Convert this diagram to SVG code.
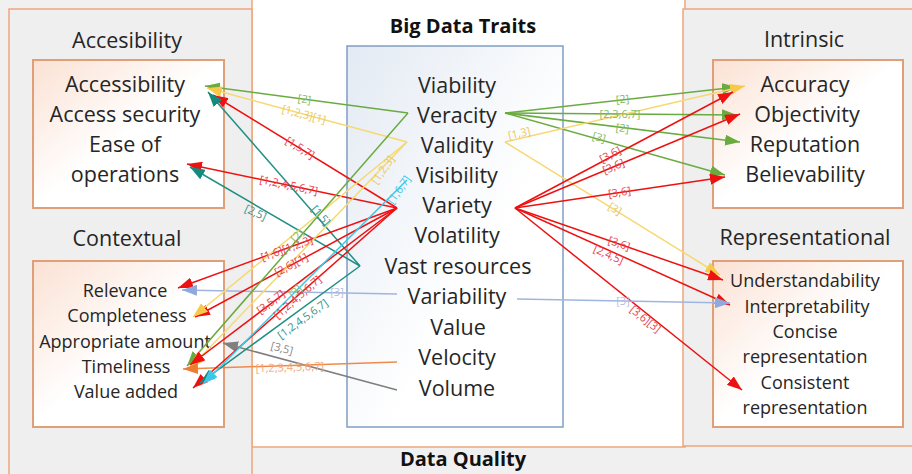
<svg xmlns="http://www.w3.org/2000/svg" width="912" height="474" viewBox="0 0 912 474">
<defs>
<linearGradient id="gIn" x1="0" y1="0" x2="1" y2="1">
<stop offset="0" stop-color="#fbe1d3"/><stop offset="0.5" stop-color="#ffffff"/><stop offset="1" stop-color="#ffffff"/>
</linearGradient>
<linearGradient id="gBl" x1="0" y1="0" x2="1" y2="1">
<stop offset="0" stop-color="#e3eaf3"/><stop offset="0.6" stop-color="#ffffff"/><stop offset="1" stop-color="#ffffff"/>
</linearGradient>
<marker id="aG" markerUnits="userSpaceOnUse" markerWidth="16" markerHeight="11" refX="15" refY="5.5" orient="auto"><path d="M0,0 L15,5.5 L0,11 z" fill="#6aab3f"/></marker>
<marker id="aY" markerUnits="userSpaceOnUse" markerWidth="16" markerHeight="11" refX="15" refY="5.5" orient="auto"><path d="M0,0 L15,5.5 L0,11 z" fill="#f7c948"/></marker>
<marker id="aR" markerUnits="userSpaceOnUse" markerWidth="16" markerHeight="11" refX="15" refY="5.5" orient="auto"><path d="M0,0 L15,5.5 L0,11 z" fill="#ee1111"/></marker>
<marker id="aT" markerUnits="userSpaceOnUse" markerWidth="16" markerHeight="11" refX="15" refY="5.5" orient="auto"><path d="M0,0 L15,5.5 L0,11 z" fill="#138a7e"/></marker>
<marker id="aC" markerUnits="userSpaceOnUse" markerWidth="16" markerHeight="11" refX="15" refY="5.5" orient="auto"><path d="M0,0 L15,5.5 L0,11 z" fill="#3cc8e6"/></marker>
<marker id="aB" markerUnits="userSpaceOnUse" markerWidth="16" markerHeight="11" refX="15" refY="5.5" orient="auto"><path d="M0,0 L15,5.5 L0,11 z" fill="#8fa9dc"/></marker>
<marker id="aK" markerUnits="userSpaceOnUse" markerWidth="16" markerHeight="11" refX="15" refY="5.5" orient="auto"><path d="M0,0 L15,5.5 L0,11 z" fill="#7f7f7f"/></marker>
<marker id="aO" markerUnits="userSpaceOnUse" markerWidth="16" markerHeight="11" refX="15" refY="5.5" orient="auto"><path d="M0,0 L15,5.5 L0,11 z" fill="#ed7d31"/></marker>
</defs>
<style>
.col{fill:#efefef;stroke:#eba67c;stroke-width:1.5}
.mid{fill:#ffffff;stroke:#eba67c;stroke-width:1.5}
.inner{fill:url(#gIn);stroke:#df9f78;stroke-width:2}
.traits{fill:url(#gBl);stroke:#7f9fc4;stroke-width:1.5}
text{font-family:"Open Sans","Liberation Sans",sans-serif;fill:#262626}
.t22{font-size:21.5px;text-anchor:middle}
.t18{font-size:18px;text-anchor:middle}
.hd{font-size:20px;font-weight:bold;text-anchor:middle;fill:#111}
.lb{font-size:11px;text-anchor:middle}
line{fill:none;stroke-width:1.5}
.g{stroke:#6aab3f}.y{stroke:#f7d870}.r{stroke:#ee1111}.tl{stroke:#1f8f84}.c{stroke:#3cc8e6}.b{stroke:#9fb5e0}.k{stroke:#7f7f7f}.o{stroke:#f08a4b}
.lg{fill:#86bb66}.ly{fill:#e8c860}.lr{fill:#e8404a}.lt{fill:#3a958c}.lc{fill:#3cc8e6}.lbb{fill:#b3c0de}.lk{fill:#888888}.lo{fill:#f2a677}
</style>
<rect x="0" y="0" width="912" height="474" fill="#f0f0f0"/>
<rect class="mid" x="252" y="-5" width="433" height="452"/>
<rect class="col" x="9" y="9" width="243" height="475"/>
<rect class="col" x="683" y="9" width="240" height="437"/>
<text class="hd" x="463" y="33">Big Data Traits</text>
<text class="hd" x="463" y="466">Data Quality</text>

<g id="accessibility">
<text class="t22" x="127" y="48">Accesibility</text>
<rect class="inner" x="33" y="60" width="191" height="148"/>
<text class="t22" x="125" y="92">Accessibility</text>
<text class="t22" x="125" y="122">Access security</text>
<text class="t22" x="125" y="152">Ease of</text>
<text class="t22" x="125" y="182">operations</text>
</g>
<g id="contextual">
<text class="t22" x="127" y="246">Contextual</text>
<rect class="inner" x="33" y="261" width="191" height="166"/>
<text class="t18" x="125" y="297">Relevance</text>
<text class="t18" x="127" y="322">Completeness</text>
<text class="t18" x="125" y="348">Appropriate amount</text>
<text class="t18" x="126" y="373">Timeliness</text>
<text class="t18" x="126" y="398">Value added</text>
</g>
<g id="traits">
<rect class="traits" x="347" y="46" width="216" height="381"/>
<text class="t22" x="457" y="93">Viability</text>
<text class="t22" x="457" y="123">Veracity</text>
<text class="t22" x="457" y="153">Validity</text>
<text class="t22" x="457" y="183">Visibility</text>
<text class="t22" x="457" y="213">Variety</text>
<text class="t22" x="457" y="243">Volatility</text>
<text class="t22" x="458" y="274">Vast resources</text>
<text class="t22" x="457" y="304">Variability</text>
<text class="t22" x="458" y="335">Value</text>
<text class="t22" x="457" y="365">Velocity</text>
<text class="t22" x="457" y="396">Volume</text>
</g>
<g id="intrinsic">
<text class="t22" x="804" y="47">Intrinsic</text>
<rect class="inner" x="713" y="60" width="190" height="148"/>
<text class="t22" x="805" y="92">Accuracy</text>
<text class="t22" x="807" y="122">Objectivity</text>
<text class="t22" x="805" y="152">Reputation</text>
<text class="t22" x="805" y="182">Believability</text>
</g>
<g id="representational">
<text class="t22" x="805" y="245">Representational</text>
<rect class="inner" x="713" y="261" width="190" height="166"/>
<text class="t18" x="805" y="287">Understandability</text>
<text class="t18" x="807" y="313">Interpretability</text>
<text class="t18" x="805" y="338">Concise</text>
<text class="t18" x="805" y="363">representation</text>
<text class="t18" x="805" y="389">Consistent</text>
<text class="t18" x="805" y="414">representation</text>
</g>

<g id="connectors">
<line class="g" x1="408" y1="113" x2="205" y2="86" marker-end="url(#aG)"/>
<line class="y" x1="407" y1="142" x2="207" y2="88" marker-end="url(#aY)"/>
<line class="r" x1="397" y1="208" x2="213" y2="95" marker-end="url(#aR)"/>
<line class="tl" x1="360" y1="266" x2="208" y2="92" marker-end="url(#aT)"/>
<line class="r" x1="397" y1="208" x2="187" y2="164" marker-end="url(#aR)"/>
<line class="tl" x1="360" y1="266" x2="190" y2="167" marker-end="url(#aT)"/>
<line class="r" x1="397" y1="208" x2="178" y2="288" marker-end="url(#aR)"/>
<line class="b" x1="397" y1="294" x2="182" y2="290" marker-end="url(#aB)"/>
<line class="r" x1="397" y1="208" x2="195" y2="317" marker-end="url(#aR)"/>
<line class="y" x1="407" y1="142" x2="193" y2="317" marker-end="url(#aY)"/>
<line class="k" x1="397" y1="390" x2="223" y2="343" marker-end="url(#aK)"/>
<line class="g" x1="408" y1="113" x2="187" y2="366" marker-end="url(#aG)"/>
<line class="y" x1="407" y1="142" x2="190" y2="368" marker-end="url(#aY)"/>
<line class="o" x1="397" y1="362" x2="183" y2="369" marker-end="url(#aO)"/>
<line class="r" x1="397" y1="208" x2="190" y2="365" marker-end="url(#aR)"/>
<line class="r" x1="397" y1="208" x2="193" y2="388" marker-end="url(#aR)"/>
<line class="tl" x1="360" y1="266" x2="200" y2="383" marker-end="url(#aT)"/>
<line class="c" x1="407" y1="180" x2="203" y2="384" marker-end="url(#aC)"/>

<line class="g" x1="505" y1="113" x2="737" y2="87" marker-end="url(#aG)"/>
<line class="g" x1="505" y1="113" x2="737" y2="115" marker-end="url(#aG)"/>
<line class="g" x1="505" y1="113" x2="740" y2="142" marker-end="url(#aG)"/>
<line class="g" x1="505" y1="113" x2="725" y2="175" marker-end="url(#aG)"/>
<line class="y" x1="505" y1="142" x2="745" y2="86" marker-end="url(#aY)"/>
<line class="y" x1="505" y1="142" x2="720" y2="275" marker-end="url(#aY)"/>
<line class="r" x1="515" y1="208" x2="733" y2="92" marker-end="url(#aR)"/>
<line class="r" x1="515" y1="208" x2="740" y2="114" marker-end="url(#aR)"/>
<line class="r" x1="515" y1="208" x2="725" y2="177" marker-end="url(#aR)"/>
<line class="r" x1="515" y1="208" x2="723" y2="280" marker-end="url(#aR)"/>
<line class="r" x1="515" y1="208" x2="730" y2="305" marker-end="url(#aR)"/>
<line class="r" x1="515" y1="208" x2="742" y2="390" marker-end="url(#aR)"/>
<line class="b" x1="517" y1="299" x2="730" y2="303" marker-end="url(#aB)"/>

<text class="lb lg" transform="translate(304,103) rotate(7.6)">[2]</text>
<text class="lb ly" transform="translate(303,118) rotate(15)">[1,2,3][1]</text>
<text class="lb lr" transform="translate(298,151) rotate(31.6)">[1,5,7]</text>
<text class="lb lt" transform="translate(318,218) rotate(49)">[1,5]</text>
<text class="lb lr" transform="translate(288,189) rotate(11.8)">[1,2,4,5,6,7]</text>
<text class="lb lt" transform="translate(254,216) rotate(25)">[2,5]</text>
<text class="lb lr" transform="translate(288,252) rotate(-20)">[1,6][1,2,3]</text>
<text class="lb lbb" transform="translate(337,296)">[3]</text>
<text class="lb lr" transform="translate(293,268) rotate(-28.4)">[2,6][1]</text>
<text class="lb ly" transform="translate(386,172) rotate(-55)">[1,2,3]</text>
<text class="lb lk" transform="translate(281,352) rotate(15)">[3,5]</text>
<text class="lb lg" transform="translate(300,238) rotate(-49)">[2]</text>
<text class="lb lg" transform="translate(298,294) rotate(-45)">[3]</text>
<text class="lb lo" transform="translate(290,371) rotate(-1.9)">[1,2,3,4,5,6,7]</text>
<text class="lb lr" transform="translate(273,305) rotate(-37)">[3,5,7]</text>
<text class="lb lr" transform="translate(300,300) rotate(-41)">[1,2,4,5,6,7]</text>
<text class="lb lt" transform="translate(305,322) rotate(-36)">[1,2,4,5,6,7]</text>
<text class="lb lc" transform="translate(402,192) rotate(-55)">[1,6,7]</text>

<text class="lb lg" transform="translate(623,103) rotate(-6.4)">[2]</text>
<text class="lb lg" transform="translate(620,118)">[2,3,6,7]</text>
<text class="lb lg" transform="translate(622,132) rotate(7)">[2]</text>
<text class="lb lg" transform="translate(598,141) rotate(15.7)">[3]</text>
<text class="lb ly" transform="translate(520,137) rotate(-13)">[1,3]</text>
<text class="lb ly" transform="translate(613,212) rotate(31)">[3]</text>
<text class="lb lr" transform="translate(612,158) rotate(-28)">[3,6]</text>
<text class="lb lr" transform="translate(615,170) rotate(-22.7)">[3,6]</text>
<text class="lb lr" transform="translate(620,196) rotate(-8.4)">[3,6]</text>
<text class="lb lr" transform="translate(618,247) rotate(18.3)">[3,6]</text>
<text class="lb lr" transform="translate(607,258) rotate(24.3)">[2,4,5]</text>
<text class="lb lr" transform="translate(643,322) rotate(38.7)">[3,6][3]</text>
<text class="lb lbb" transform="translate(623,305)">[3]</text>
</g>
</svg>
